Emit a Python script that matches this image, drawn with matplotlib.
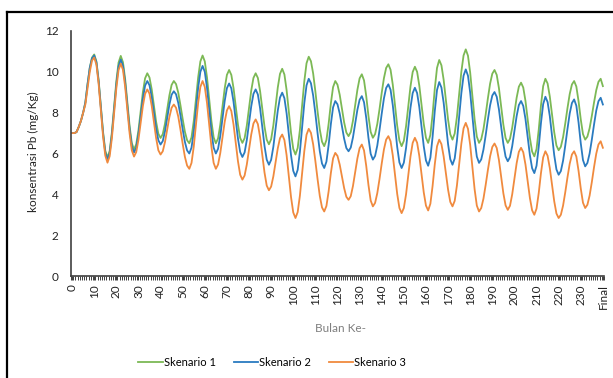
import numpy as np
import matplotlib
matplotlib.use('Agg')
import matplotlib.pyplot as plt
from matplotlib.lines import Line2D

plt.rcParams['font.family'] = ['Lato', 'DejaVu Sans']

# bulan 0 .. 240 (240 = "Final")
months = np.arange(241)

skenario1 = [
    7.0, 7.0, 7.05, 7.3, 7.6, 8.0, 8.5, 9.4, 10.2, 10.7,
    10.85, 10.51, 9.59, 8.33, 7.06, 6.14, 5.8, 6.13, 7.05, 8.29,
    9.54, 10.45, 10.78, 10.47, 9.64, 8.49, 7.35, 6.51, 6.2, 6.45,
    7.13, 8.07, 9.0, 9.68, 9.93, 9.72, 9.14, 8.35, 7.55, 6.97,
    6.76, 6.95, 7.46, 8.16, 8.85, 9.36, 9.55, 9.40, 8.98, 8.36,
    7.69, 7.07, 6.65, 6.5, 6.79, 7.58, 8.65, 9.73, 10.51, 10.8,
    10.51, 9.73, 8.65, 7.58, 6.79, 6.5, 6.74, 7.40, 8.30, 9.19,
    9.85, 10.09, 9.85, 9.20, 8.31, 7.41, 6.76, 6.52, 6.75, 7.37,
    8.23, 9.08, 9.70, 9.93, 9.70, 9.06, 8.19, 7.32, 6.68, 6.45,
    6.70, 7.38, 8.30, 9.23, 9.90, 10.15, 9.87, 9.10, 8.05, 7.0,
    6.23, 5.95, 6.27, 7.15, 8.35, 9.54, 10.42, 10.74, 10.52, 9.92,
    9.04, 8.06, 7.18, 6.58, 6.36, 6.66, 7.46, 8.45, 9.25, 9.55,
    9.37, 8.88, 8.2, 7.53, 7.03, 6.85, 7.05, 7.61, 8.37, 9.12,
    9.68, 9.88, 9.58, 8.81, 7.84, 7.06, 6.77, 6.95, 7.45, 8.17,
    8.97, 9.69, 10.19, 10.37, 10.10, 9.37, 8.37, 7.36, 6.63, 6.36,
    6.62, 7.33, 8.31, 9.28, 9.99, 10.25, 10.0, 9.32, 8.39, 7.45,
    6.77, 6.52, 6.91, 7.92, 9.18, 10.19, 10.58, 10.32, 9.61, 8.63,
    7.66, 6.94, 6.68, 6.98, 7.79, 8.89, 10.0, 10.80, 11.1, 10.79,
    9.96, 8.81, 7.67, 6.83, 6.52, 6.70, 7.19, 7.91, 8.70, 9.42,
    9.91, 10.09, 9.85, 9.20, 8.31, 7.41, 6.76, 6.52, 6.72, 7.26,
    8.0, 8.73, 9.27, 9.47, 9.23, 8.57, 7.67, 6.76, 6.10, 5.86,
    6.22, 7.17, 8.35, 9.30, 9.66, 9.43, 8.79, 7.91, 7.04, 6.39,
    6.16, 6.33, 6.80, 7.48, 8.23, 8.91, 9.38, 9.55, 9.28, 8.56,
    7.67, 6.95, 6.68, 6.83, 7.24, 7.84, 8.50, 9.10, 9.51, 9.66,
    9.3,
]

skenario2 = [
    7.0, 7.0, 7.05, 7.3, 7.6, 8.0, 8.5, 9.4, 10.2, 10.65,
    10.8, 10.46, 9.53, 8.25, 6.98, 6.04, 5.7, 6.03, 6.93, 8.15,
    9.38, 10.27, 10.6, 10.30, 9.46, 8.33, 7.19, 6.35, 6.05, 6.28,
    6.93, 7.8, 8.68, 9.32, 9.55, 9.34, 8.77, 8.0, 7.22, 6.65,
    6.44, 6.61, 7.09, 7.75, 8.40, 8.88, 9.05, 8.90, 8.48, 7.86,
    7.19, 6.57, 6.15, 6.0, 6.29, 7.07, 8.15, 9.22, 10.0, 10.29,
    10.0, 9.22, 8.15, 7.07, 6.29, 6.0, 6.23, 6.86, 7.72, 8.57,
    9.20, 9.43, 9.19, 8.53, 7.63, 6.73, 6.07, 5.83, 6.05, 6.66,
    7.49, 8.31, 8.92, 9.14, 8.89, 8.22, 7.30, 6.37, 5.70, 5.45,
    5.69, 6.33, 7.22, 8.10, 8.74, 8.98, 8.71, 7.96, 6.93, 5.91,
    5.15, 4.88, 5.20, 6.08, 7.27, 8.47, 9.34, 9.66, 9.44, 8.84,
    7.96, 6.99, 6.11, 5.51, 5.29, 5.60, 6.42, 7.44, 8.26, 8.57,
    8.41, 7.96, 7.34, 6.73, 6.27, 6.11, 6.29, 6.79, 7.46, 8.14,
    8.63, 8.81, 8.51, 7.74, 6.77, 5.99, 5.7, 5.88, 6.39, 7.14,
    7.95, 8.70, 9.21, 9.39, 9.12, 8.37, 7.34, 6.32, 5.56, 5.29,
    5.55, 6.27, 7.26, 8.24, 8.96, 9.22, 8.96, 8.27, 7.31, 6.36,
    5.66, 5.4, 5.79, 6.81, 8.09, 9.11, 9.5, 9.23, 8.49, 7.48,
    6.46, 5.72, 5.45, 5.76, 6.62, 7.79, 8.95, 9.81, 10.12, 9.81,
    8.98, 7.83, 6.69, 5.85, 5.54, 5.71, 6.19, 6.89, 7.66, 8.36,
    8.84, 9.01, 8.78, 8.16, 7.32, 6.47, 5.85, 5.62, 5.82, 6.36,
    7.10, 7.83, 8.37, 8.57, 8.33, 7.69, 6.81, 5.92, 5.28, 5.04,
    5.40, 6.33, 7.49, 8.42, 8.78, 8.52, 7.83, 6.87, 5.92, 5.22,
    4.96, 5.14, 5.65, 6.40, 7.21, 7.96, 8.47, 8.65, 8.34, 7.52,
    6.50, 5.68, 5.37, 5.54, 6.0, 6.68, 7.42, 8.10, 8.56, 8.73,
    8.4,
]

skenario3 = [
    7.0, 7.0, 7.05, 7.3, 7.6, 8.0, 8.4, 9.2, 10.0, 10.55,
    10.7, 10.35, 9.41, 8.13, 6.84, 5.90, 5.55, 5.87, 6.76, 7.98,
    9.19, 10.08, 10.4, 10.10, 9.26, 8.13, 6.99, 6.15, 5.85, 6.07,
    6.67, 7.50, 8.32, 8.92, 9.14, 8.93, 8.34, 7.55, 6.75, 6.16,
    5.95, 6.11, 6.56, 7.18, 7.79, 8.24, 8.4, 8.24, 7.81, 7.17,
    6.48, 5.84, 5.41, 5.25, 5.54, 6.33, 7.40, 8.48, 9.26, 9.55,
    9.26, 8.48, 7.40, 6.33, 5.54, 5.25, 5.46, 6.02, 6.79, 7.55,
    8.11, 8.32, 8.08, 7.42, 6.52, 5.62, 4.96, 4.72, 4.92, 5.46,
    6.20, 6.93, 7.47, 7.67, 7.44, 6.80, 5.94, 5.07, 4.43, 4.2,
    4.38, 4.88, 5.57, 6.25, 6.75, 6.93, 6.66, 5.91, 4.89, 3.86,
    3.11, 2.84, 3.13, 3.93, 5.03, 6.12, 6.92, 7.21, 7.01, 6.45,
    5.63, 4.74, 3.92, 3.36, 3.16, 3.43, 4.15, 5.04, 5.76, 6.03,
    5.88, 5.46, 4.88, 4.31, 3.88, 3.73, 3.91, 4.41, 5.09, 5.76,
    6.26, 6.44, 6.15, 5.39, 4.46, 3.70, 3.41, 3.58, 4.06, 4.75,
    5.51, 6.20, 6.68, 6.85, 6.60, 5.91, 4.97, 4.02, 3.33, 3.08,
    3.33, 4.0, 4.93, 5.85, 6.52, 6.77, 6.53, 5.88, 4.99, 4.10,
    3.45, 3.21, 3.54, 4.41, 5.48, 6.35, 6.68, 6.46, 5.86, 5.05,
    4.23, 3.63, 3.41, 3.68, 4.43, 5.46, 6.48, 7.23, 7.5, 7.21,
    6.42, 5.33, 4.25, 3.45, 3.16, 3.33, 3.79, 4.46, 5.19, 5.86,
    6.32, 6.49, 6.27, 5.68, 4.87, 4.05, 3.46, 3.24, 3.44, 4.0,
    4.76, 5.52, 6.08, 6.28, 6.06, 5.46, 4.64, 3.82, 3.22, 3.0,
    3.30, 4.07, 5.04, 5.81, 6.11, 5.89, 5.29, 4.48, 3.66, 3.06,
    2.84, 3.0, 3.45, 4.11, 4.84, 5.50, 5.95, 6.11, 5.85, 5.15,
    4.29, 3.59, 3.33, 3.49, 3.94, 4.60, 5.33, 5.99, 6.44, 6.6,
    6.28,
]

tick_pos = list(range(0, 240, 10)) + [240]
tick_labels = [str(t) for t in range(0, 240, 10)] + ['Final']

fig = plt.figure(figsize=(6.13, 3.78), dpi=100)
ax = fig.add_axes([0.1158, 0.2698, 0.8695, 0.6482])

ax.plot(months, skenario1, color='#7cb955', lw=1.3, label='Skenario 1')
ax.plot(months, skenario2, color='#2a7bc0', lw=1.3, label='Skenario 2')
ax.plot(months, skenario3, color='#f08a3e', lw=1.3, label='Skenario 3')

ax.set_xlim(-0.5, 240.5)
ax.set_ylim(0, 12)
ax.set_yticks(range(0, 13, 2))
ax.set_xticks(tick_pos)
ax.set_xticklabels(tick_labels, rotation=90, fontsize=8.5, color='#222222')
ax.set_xticks(np.arange(-0.5, 241, 1), minor=True)
ax.tick_params(axis='x', which='both', length=3, width=0.7, color='#404040', pad=3)
ax.tick_params(axis='y', length=0, pad=9, labelsize=8.5, labelcolor='#222222')

for s in ['top', 'right']:
    ax.spines[s].set_visible(False)
ax.spines['left'].set_color('#404040')
ax.spines['bottom'].set_color('#404040')
ax.spines['left'].set_linewidth(1.2)
ax.spines['bottom'].set_linewidth(1.2)

fig.text(0.054, 0.60, 'konsentrasi Pb (mg/Kg)', rotation=90, ha='center', va='center',
         fontsize=8.5, color='#222222')
fig.text(0.555, 0.132, 'Bulan Ke-', ha='center', va='center', fontsize=8.5, color='#7f7f7f')

fig.legend(loc='center', bbox_to_anchor=(0.444, 0.042), ncol=3, frameon=False,
           fontsize=8, handlelength=2.2, handletextpad=0.1, columnspacing=1.6)

# bingkai gambar (kiri & atas)
fig.add_artist(Line2D([0.0114, 0.0114], [0.0, 0.968], color='black', lw=1.6))
fig.add_artist(Line2D([0.0114, 1.0], [0.968, 0.968], color='black', lw=1.6))

fig.savefig('out.png', dpi=100)
